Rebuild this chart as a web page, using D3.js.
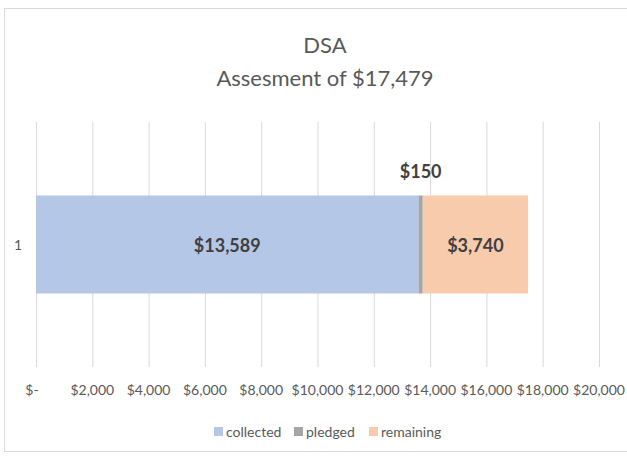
<!DOCTYPE html>
<html>
<head>
<meta charset="utf-8">
<script src="https://cdn.jsdelivr.net/npm/d3@7"></script>
<style>
  body { margin: 0; background: #fff; }
  text { font-family: Lato, "Open Sans", sans-serif; }
</style>
</head>
<body>
<svg id="chart" width="627" height="460"></svg>
<script>
const categories = ["1"]
const seriesNames = ["collected", "pledged", "remaining"]
const seriesValues = [13589, 150, 3740]
const seriesColors = ["#b4c7e7", "#a5a5a5", "#f8cbad"]
const tickValues = [0, 2000, 4000, 6000, 8000, 10000, 12000, 14000, 16000, 18000, 20000]
const titleLines = ["DSA", "Assesment of $17,479"]

const svg = d3.select("#chart")

// chart frame
svg.append("rect")
    .attr("x", 4.5).attr("y", 8.5)
    .attr("width", 640).attr("height", 443)
    .attr("fill", "none")
    .attr("stroke", "#d9d9d9")

const x = d3.scaleLinear().domain([0, 20000]).range([36, 599])
const y = d3.scaleBand().domain(categories).range([122, 367]).paddingInner(0.6).paddingOuter(0.3)

// gridlines
svg.append("g")
    .selectAll("line")
    .data(tickValues)
    .enter().append("line")
    .attr("x1", d => x(d) + 0.5).attr("x2", d => x(d) + 0.5)
    .attr("y1", 122).attr("y2", 367)
    .attr("stroke", "#d9d9d9")

// tick labels
const fmt = d => d == 0 ? "$-" : "$" + d3.format(",")(d)
svg.append("g")
    .selectAll("text")
    .data(tickValues)
    .enter().append("text")
    .attr("x", d => d == 0 ? x(d) - 4 : x(d))
    .attr("y", 395)
    .attr("text-anchor", "middle")
    .attr("font-size", 14)
    .attr("fill", "#595959")
    .text(fmt)

// category label
svg.append("text")
    .attr("x", 18)
    .attr("y", y("1") + y.bandwidth() / 2 + 5)
    .attr("text-anchor", "middle")
    .attr("font-size", 14)
    .attr("fill", "#595959")
    .text(categories[0])

// stacked segments
const stacked = []
let acc = 0
seriesValues.forEach((v, i) => {
    stacked.push({ name: seriesNames[i], start: acc, end: acc + v, value: v, color: seriesColors[i] })
    acc += v
})

svg.append("g")
    .selectAll("rect")
    .data(stacked)
    .enter().append("rect")
    .attr("x", d => x(d.start))
    .attr("width", d => x(d.end) - x(d.start))
    .attr("y", y("1"))
    .attr("height", y.bandwidth())
    .attr("fill", d => d.color)

// data labels
svg.append("g")
    .selectAll("text")
    .data(stacked)
    .enter().append("text")
    .attr("x", d => (x(d.start) + x(d.end)) / 2)
    .attr("y", d => d.name == "pledged" ? y("1") - 18 : y("1") + y.bandwidth() / 2 + 7)
    .attr("text-anchor", "middle")
    .attr("font-size", 18)
    .attr("font-weight", "bold")
    .attr("fill", "#404040")
    .text(d => "$" + d3.format(",")(d.value))

// title
svg.append("g")
    .selectAll("text")
    .data(titleLines)
    .enter().append("text")
    .attr("x", 325)
    .attr("y", (d, i) => 53 + i * 33)
    .attr("text-anchor", "middle")
    .attr("font-size", 22)
    .attr("fill", "#595959")
    .text(d => d)

// legend
const legendX = [214, 294, 369]
const legend = svg.append("g")
    .selectAll("g")
    .data(seriesNames)
    .enter().append("g")
    .attr("transform", (d, i) => "translate(" + legendX[i] + ",432)")
legend.append("rect")
    .attr("x", 0).attr("y", -5)
    .attr("width", 9).attr("height", 9)
    .attr("fill", (d, i) => seriesColors[i])
legend.append("text")
    .attr("x", 12).attr("y", 5)
    .attr("font-size", 14)
    .attr("fill", "#595959")
    .text(d => d)
</script>
</body>
</html>
